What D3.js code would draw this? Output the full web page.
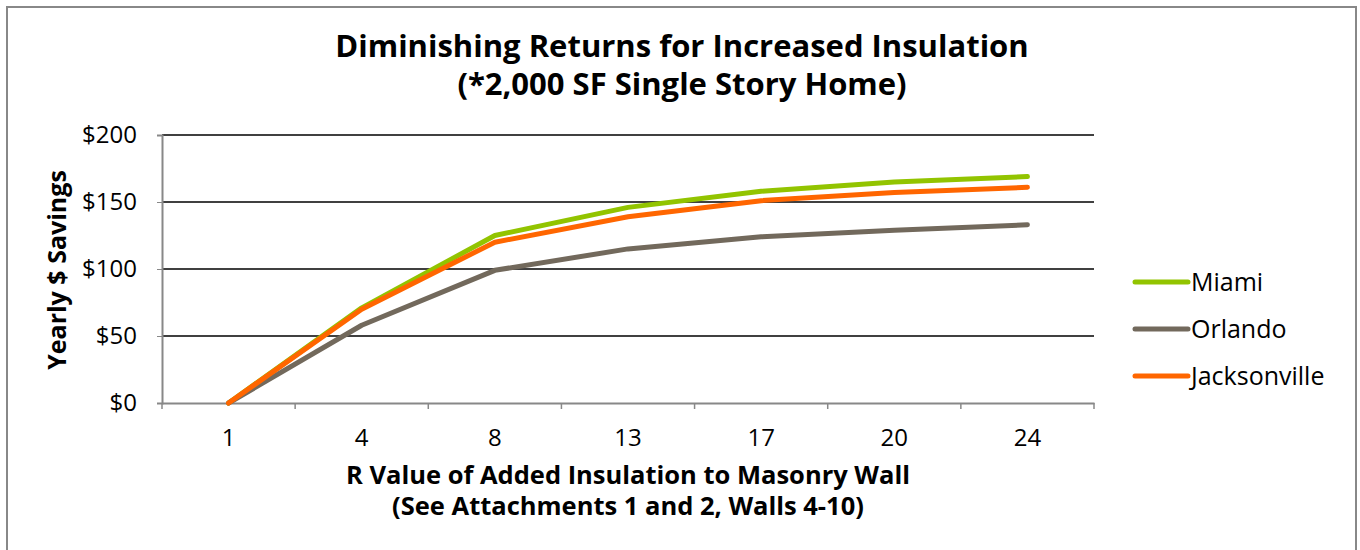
<!DOCTYPE html>
<html>
<head>
<meta charset="utf-8">
<script src="https://cdn.jsdelivr.net/npm/d3@7"></script>
<style>
  body { margin: 0; background: #fff; }
  text { font-family: "Open Sans", "Noto Sans", sans-serif; }
</style>
</head>
<body>
<div id="chart_svg"></div>
<script>
// R values along the x axis
const rValues = ["1", "4", "8", "13", "17", "20", "24"]

// yearly savings per city
const miami = [0, 71, 125, 146, 158, 165, 169]
const orlando = [0, 58, 99, 115, 124, 129, 133]
const jacksonville = [0, 70, 120, 139, 151, 157, 161]

const seriesNames = ["Miami", "Orlando", "Jacksonville"]
const seriesColors = ["#92C400", "#72695C", "#FF6600"]
const yTicks = [0, 50, 100, 150, 200]

const totalWidth = 1360
const totalHeight = 550

var margin = {top: 135, right: 266, bottom: 147, left: 162},
    width = totalWidth - margin.left - margin.right,
    height = totalHeight - margin.top - margin.bottom;

var svg = d3.select("#chart_svg")
  .append("svg")
  .attr("width", totalWidth)
  .attr("height", totalHeight)

// outer frame (bottom edge runs off the picture)
svg.append("rect")
  .attr("x", 7).attr("y", 7)
  .attr("width", 1349).attr("height", 560)
  .attr("fill", "none")
  .attr("stroke", "#888")
  .attr("stroke-width", 2)

// title
svg.append("text")
  .attr("x", 682).attr("y", 57)
  .attr("text-anchor", "middle")
  .attr("font-size", 31).attr("font-weight", "bold")
  .text("Diminishing Returns for Increased Insulation")
svg.append("text")
  .attr("x", 682).attr("y", 95)
  .attr("text-anchor", "middle")
  .attr("font-size", 31).attr("font-weight", "bold")
  .text("(*2,000 SF Single Story Home)")

var g = svg.append("g")
  .attr("transform", "translate(" + margin.left + "," + margin.top + ")")

var x = d3.scaleBand()
  .domain(rValues)
  .range([0, width])

var y = d3.scaleLinear()
  .domain([0, 200])
  .range([height, 0])

// horizontal gridlines
g.selectAll(".grid")
  .data(yTicks.slice(1))
  .enter().append("line")
  .attr("x1", 0).attr("x2", width)
  .attr("y1", d => y(d)).attr("y2", d => y(d))
  .attr("stroke", "#000")
  .attr("stroke-width", 1.5)

// y axis
var yAxis = g.append("g")
  .call(d3.axisLeft(y).tickValues(yTicks).tickSize(5).tickPadding(20).tickFormat(d => "$" + d))
yAxis.select(".domain").attr("stroke", "#888").attr("stroke-width", 2)
yAxis.selectAll(".tick line").attr("stroke", "#888")
yAxis.selectAll("text").attr("font-size", 24).attr("fill", "#000")
  .style("font-family", "'Open Sans', 'Noto Sans', sans-serif")

// x axis, ticks on band boundaries
var xAxis = g.append("g")
  .attr("transform", "translate(0," + height + ")")
  .call(d3.axisBottom(x).tickSize(0).tickPadding(26))
xAxis.select(".domain").attr("stroke", "#888").attr("stroke-width", 2)
xAxis.selectAll("text").attr("font-size", 24).attr("fill", "#000")
  .style("font-family", "'Open Sans', 'Noto Sans', sans-serif")
g.append("g")
  .selectAll("line")
  .data(d3.range(rValues.length + 1))
  .enter().append("line")
  .attr("x1", i => i * x.step()).attr("x2", i => i * x.step())
  .attr("y1", height).attr("y2", height + 6)
  .attr("stroke", "#888").attr("stroke-width", 1.5)

// axis titles
svg.append("text")
  .attr("x", 628).attr("y", 484)
  .attr("text-anchor", "middle")
  .attr("font-size", 25.5).attr("font-weight", "bold")
  .text("R Value of Added Insulation to Masonry Wall")
svg.append("text")
  .attr("x", 628).attr("y", 515)
  .attr("text-anchor", "middle")
  .attr("font-size", 25.5).attr("font-weight", "bold")
  .text("(See Attachments 1 and 2, Walls 4-10)")
svg.append("text")
  .attr("transform", "translate(66,270) rotate(-90)")
  .attr("text-anchor", "middle")
  .attr("font-size", 25).attr("font-weight", "bold")
  .text("Yearly $ Savings")

// lines
var line = d3.line()
  .x((d, i) => x(rValues[i]) + x.bandwidth() / 2)
  .y(d => y(d))

var allSeries = [miami, orlando, jacksonville]
// draw order: Miami, Orlando, Jacksonville on top
allSeries.forEach(function(s, i) {
  g.append("path")
    .datum(s)
    .attr("fill", "none")
    .attr("stroke", seriesColors[i])
    .attr("stroke-width", 5)
    .attr("stroke-linecap", "round")
    .attr("stroke-linejoin", "round")
    .attr("d", line)
})

// legend
var legend = svg.append("g")
seriesNames.forEach(function(name, i) {
  var ly = 282 + i * 47
  legend.append("line")
    .attr("x1", 1135).attr("x2", 1188)
    .attr("y1", ly).attr("y2", ly)
    .attr("stroke", seriesColors[i])
    .attr("stroke-width", 5)
    .attr("stroke-linecap", "round")
  legend.append("text")
    .attr("x", 1191).attr("y", ly + 9)
    .attr("font-size", 25)
    .text(name)
})
</script>
</body>
</html>
